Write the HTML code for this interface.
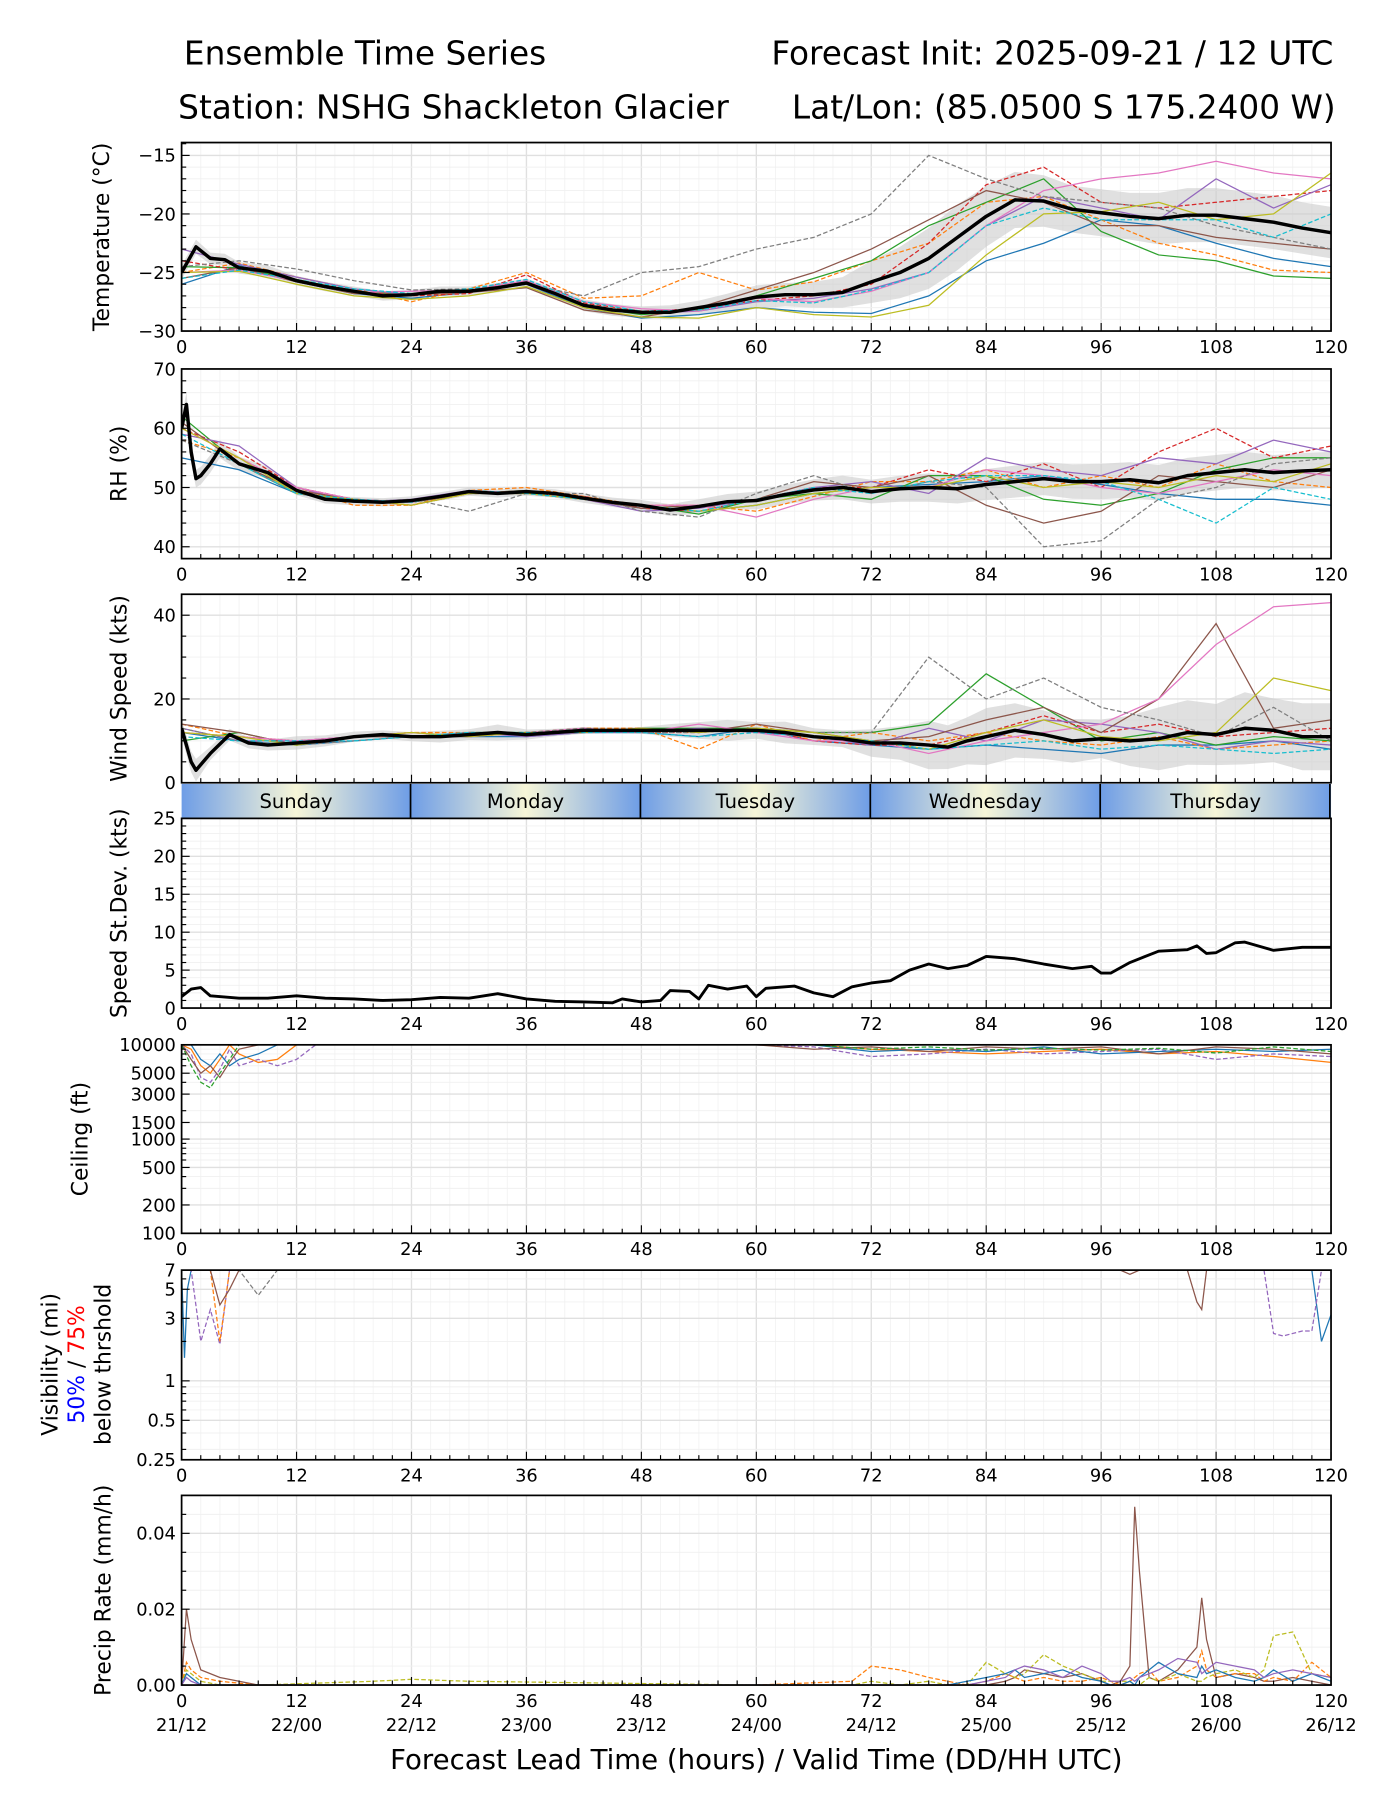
<!DOCTYPE html>
<html><head><meta charset="utf-8"><title>Ensemble Time Series</title>
<style>
html,body{margin:0;padding:0;background:#fff;}
svg{display:block;}
text{font-family:"DejaVu Sans","Liberation Sans",sans-serif;fill:#000;}
</style></head>
<body>
<svg id="chart" width="1400" height="1800" viewBox="0 0 1218 1566" preserveAspectRatio="none" xmlns="http://www.w3.org/2000/svg">
<defs>
<linearGradient id="dayg" x1="0" x2="1" y1="0" y2="0">
<stop offset="0" stop-color="#6e9de6"/><stop offset="0.5" stop-color="#f7f6d8"/><stop offset="1" stop-color="#6e9de6"/>
</linearGradient>
</defs>
<text x="160" y="56" font-size="28.5">Ensemble Time Series</text>
<text x="1160" y="56" font-size="28.5" text-anchor="end">Forecast Init: 2025-09-21 / 12 UTC</text>
<text x="155" y="103" font-size="28.5">Station: NSHG Shackleton Glacier</text>
<text x="1162" y="103" font-size="28.5" text-anchor="end">Lat/Lon: (85.0500 S 175.2400 W)</text>
<text x="658" y="1539" font-size="24" text-anchor="middle">Forecast Lead Time (hours) / Valid Time (DD/HH UTC)</text>
</svg>
<script>
// ---------- DATA ----------
const colors = ['#1f77b4','#ff7f0e','#2ca02c','#d62728','#9467bd','#8c564b','#e377c2','#7f7f7f','#bcbd22','#17becf'];
const dashed = [false,true,false,true,false,false,false,true,false,true];
const memberHours = [0,6,12,18,24,30,36,42,48,54,60,66,72,78,84,90,96,102,108,114,120];
const meanHours = [0,1.5,3,4.5,6,9,12,15,18,21,24,27,30,33,36,39,42,45,48,51,54,57,60,63,66,69,72,75,78,81,84,87,90,93,96,99,102,105,108,111,114,117,120];
const tempMean = [-25,-22.8,-23.8,-23.9,-24.6,-24.9,-25.7,-26.2,-26.6,-27,-26.9,-26.6,-26.6,-26.3,-25.9,-26.8,-27.8,-28.2,-28.4,-28.4,-28,-27.6,-27.1,-26.9,-26.9,-26.7,-25.8,-25,-23.8,-22,-20.2,-18.8,-18.9,-19.6,-19.9,-20.2,-20.4,-20.1,-20.1,-20.4,-20.7,-21.2,-21.6];
const tempSd = [0.6,0.6,0.5,0.5,0.5,0.5,0.4,0.4,0.4,0.4,0.4,0.4,0.4,0.4,0.4,0.4,0.5,0.5,0.5,0.6,0.6,0.8,1.0,1.0,1.1,1.3,1.8,2.2,2.6,2.8,2.6,2.4,2.2,2.0,2.0,2.0,2.2,2.3,2.3,2.3,2.3,2.2,2.2];
const tempMembers = [
[-26,-24.4,-25.8,-26.8,-27.2,-26.7,-26,-28,-28.9,-28.6,-28,-28.4,-28.5,-27,-24,-22.5,-20.5,-21,-22.5,-23.8,-24.5],
[-25,-24.2,-25.4,-26.4,-27.5,-26.4,-25,-27.2,-27,-25,-26.5,-25.8,-24,-22.5,-19,-18.5,-20.5,-22.5,-23.5,-24.8,-25],
[-24.5,-24.6,-25.6,-26.6,-26.9,-26.5,-25.8,-27.9,-28.6,-28.2,-27,-25.5,-24,-21,-19,-17,-21.5,-23.5,-24,-25.3,-25.5],
[-24,-24.8,-25.6,-26.6,-27,-26.8,-25.2,-27.6,-28.3,-28.1,-27.4,-27,-26,-22.5,-17.5,-16,-19,-19.5,-19,-18.5,-18],
[-23,-24.3,-25.4,-26.4,-26.9,-26.6,-26,-27.8,-28.5,-28.3,-27.5,-27.2,-26.4,-25,-21,-18.5,-19.5,-20.5,-17,-19.5,-17.5],
[-25.5,-24.6,-25.8,-26.8,-26.9,-26.7,-26.3,-28.2,-28.8,-28,-26.5,-25,-23,-20.5,-18,-19,-21,-21,-22,-22.5,-23],
[-25,-24.8,-25.7,-26.7,-26.6,-26.5,-25.7,-27.5,-28.1,-28.3,-27.2,-27.5,-26.6,-25,-21,-18,-17,-16.5,-15.5,-16.5,-17],
[-24.5,-24,-24.7,-25.7,-26.5,-26.4,-26,-27,-25,-24.5,-23,-22,-20,-15,-17,-18.5,-19,-19.5,-21,-22,-23],
[-25,-24.9,-26,-27,-27.3,-27,-26.2,-28,-28.8,-28.9,-28,-28.6,-28.8,-27.8,-23.5,-20,-19.8,-19,-20.5,-20,-16.5],
[-25.5,-24.8,-25.6,-26.4,-26.8,-26.4,-25.6,-27.5,-28.3,-28.2,-27.4,-27.6,-26.5,-25,-21,-19.5,-20.5,-20.5,-20.5,-22,-20]
];
const rhHours = [0,0.5,1,1.5,2,3,4,6,9,12,15,18,21,24,27,30,33,36,39,42,45,48,51,54,57,60,63,66,69,72,75,78,81,84,87,90,93,96,99,102,105,108,111,114,117,120];
const rhMean = [60,64,56,51.5,52,54,56.5,54,52.5,49.5,48,47.7,47.5,47.8,48.5,49.3,49,49.3,49,48.2,47.5,47,46.2,46.8,47.6,47.8,48.8,49.6,50,49.3,49.8,50,49.8,50.5,51,51.5,51,51,51.3,50.8,52,52.5,53,52.5,52.8,53];
const rhSd = [2,2,2,1.5,1.5,1.5,1.5,1.2,1,0.8,0.7,0.7,0.7,0.7,0.7,0.7,0.7,0.7,0.7,0.8,0.8,0.9,1,1.2,1.3,1.5,1.6,1.8,2,2,2.2,2.4,2.5,2.6,2.7,2.8,2.9,3,3,3,3,3,3,3,3,3];
const rhMembers = [
[55,53,49,47.5,47.5,49,49,48,46.5,46,47,49,50,50.5,51,52,50.5,49,48,48,47],
[58,55,50,47,47,49.5,50,48.5,47,47,46,48.5,51,51,53,50,52,50,54,51,50],
[62,54,49,48,47.5,49,49.5,48,47,45.5,48,49,48,52,52,48,47,49,53,55,55],
[60,56,50,48,47,49,49,48.5,46.5,46,48,50,50,53,51,54,50,56,60,55,57],
[59,57,50,47.5,48,49.5,49,48,46,46.5,48,50,51,49,55,53,52,55,54,58,56],
[61,54,49.5,48,47.5,49,49.5,48,46.5,47,48,51,50,52,47,44,46,52,51,50,53],
[60,55,50,48,47.5,49.5,49,48,47,47,45,48,50,50,53,52,50,49,51,53,52],
[58,54,49,47.5,48,46,49,49,46,45,49,52,49,51,50,40,41,48,50,54,55],
[60,55,49,48,47,49,49,48,47,46,47,49,50,50,52,50,51,50,52,51,54],
[59,54,49,48,47.5,49.5,49,48,47,46,48,50,49,51,52,52,51,48,44,50,48]
];
const windHours = [0,1,1.5,3,5,7,9,12,15,18,21,24,27,30,33,36,39,42,45,48,51,54,57,60,63,66,69,72,75,78,80,82,84,87,90,93,96,99,102,105,108,111,114,117,120];
const windMean = [13,5,3,7,11.5,9.5,9,9.5,10,11,11.5,11,11,11.5,12,11.5,12,12.5,12.5,12.5,12.5,12.5,12.5,12.5,12,11,10.5,9.5,9.5,9,8.5,10,11,12.5,11.5,10,10.5,10,10.5,12,11.5,13,12.5,11,11];
const windSd = [2,2.5,2.7,1.6,1.4,1.3,1.3,1.6,1.3,1.2,1,1.1,1.4,1.3,1.9,1.2,0.9,0.8,0.7,0.8,1.5,2,2.5,2,2.6,2,2,3.3,4,5.8,5.2,5.6,6.8,6.5,5.8,5.2,4.6,6,7.5,7.7,7.3,8.6,7.6,8,8];
const windMembers = [
[12,10,9,10,11,11,11,12,12,11,13,10,9,8,9,8,7,9,9,10,8],
[14,11,10,11,12,12,12,13,13,8,14,10,12,10,12,10,9,11,8,9,10],
[10,12,9,11,11,12,12,12,13,13,13,12,12,14,26,18,10,12,9,11,10],
[12,11,10,11,12,11,12,13,12,12,13,10,9,9,12,16,12,14,11,12,13],
[13,10,10,11,11,12,11,12,12,13,12,11,9,13,10,15,14,12,8,10,9],
[14,12,9,11,11,11,12,12,13,12,14,12,10,11,15,18,12,20,38,13,15],
[12,11,10,11,12,11,12,13,12,14,12,10,10,7,10,12,14,20,33,42,43],
[13,10,9,10,11,12,12,13,12,12,13,12,12,30,20,25,18,15,11,18,10],
[12,11,9,11,12,11,12,12,13,12,13,12,10,8,12,15,11,10,12,25,22],
[11,10,10,10,11,12,12,12,12,11,12,11,10,8,9,10,8,9,8,7,8]
];
const sdHours = [0,1,2,3,6,9,12,15,18,21,24,27,30,33,36,39,42,45,46,48,50,51,53,54,55,57,59,60,61,64,66,68,70,72,74,76,78,80,82,84,87,90,93,95,96,97,99,102,105,106,107,108,110,111,114,117,120];
const sdValues = [1.5,2.5,2.7,1.6,1.3,1.3,1.6,1.3,1.2,1,1.1,1.4,1.3,1.9,1.2,0.9,0.8,0.7,1.2,0.8,1,2.3,2.2,1.2,3,2.5,2.9,1.5,2.6,2.9,2,1.5,2.8,3.3,3.6,5,5.8,5.2,5.6,6.8,6.5,5.8,5.2,5.5,4.6,4.6,6,7.5,7.7,8.2,7.2,7.3,8.6,8.7,7.6,8,8];
const ceilHours = [0,1,2,3,4,5,6,8,10,12,14,null,60,66,72,78,84,90,96,102,108,114,120];
const ceilMembers = [
[10000,9000,6000,5000,7000,10000,8000,6500,7000,10000,10000,null,10000,10000,9000,8500,8000,8500,9000,8000,8500,7500,6500],
[10000,8000,4500,4000,5500,9000,6000,7000,6000,7000,10000,null,10000,9500,7500,8000,9000,8000,8500,9000,7000,8000,7500],
[10000,10000,7000,6000,8000,6000,7000,8000,10000,10000,10000,null,10000,10000,8500,9000,8500,9500,8000,8500,9000,8500,9000],
[10000,7000,5000,6000,4500,6500,9000,10000,10000,10000,10000,null,10000,9000,9500,8500,9500,9000,9500,8000,9500,9000,8000],
[10000,6000,4000,3500,5000,7000,10000,10000,10000,10000,10000,null,10000,10000,9000,9500,8800,9200,8800,9200,8200,9500,8500]
];
const visHours = [0,0.3,0.6,1,2,3,4,5,6,8,10,null,98,99,100,null,105,106,106.5,107,108,null,113,114,115,116,117,118,119,120];
const visMembers = [
[7,1.5,5,7,7,7,7,7,7,7,7,null,7,7,7,null,7,7,7,7,7,null,7,7,7,7,7,7,2,3.2],
[7,7,7,7,2,3.5,1.9,7,7,7,7,null,7,7,7,null,7,7,7,7,7,null,7,2.3,2.2,2.3,2.4,2.4,7,7],
[7,7,7,7,7,7,2,7,7,7,7,null,7,7,7,null,7,7,7,7,7,null,7,7,7,7,7,7,7,7],
[7,7,7,7,7,7,3.8,5,7,7,7,null,7,6.5,7,null,7,4,3.5,7,7,null,7,7,7,7,7,7,7,7],
[7,7,7,7,7,7,7,7,7,4.5,7,null,7,7,7,null,7,7,7,7,7,null,7,7,7,7,7,7,7,7]
];
const visColors = ['#1f77b4','#9467bd','#ff7f0e','#8c564b','#7f7f7f'];
const precipHours = [0,0.5,1,2,4,8,20,24,30,60,70,72,75,78,80,82,84,86,87,88,90,92,94,96,97,98,99,99.5,100,101,102,104,106,106.5,107,108,110,112,113,114,116,118,120];
const precipMembers = [
[0,0.02,0.012,0.004,0.002,0,0,0,0,0,0,0,0,0,0,0,0,0.001,0.002,0.004,0.003,0.002,0.003,0.001,0,0.001,0.005,0.047,0.03,0.002,0.001,0.004,0.01,0.023,0.012,0.002,0.003,0.002,0.001,0.001,0.002,0.001,0],
[0,0.006,0.004,0.002,0.001,0,0,0,0,0,0.001,0.005,0.004,0.002,0.001,0,0.001,0.003,0.002,0.001,0.002,0.001,0.001,0.002,0.001,0,0.001,0.002,0.003,0.004,0.001,0.002,0.005,0.009,0.004,0.002,0.003,0.003,0.001,0.002,0.001,0.006,0.002],
[0,0.004,0.003,0.001,0,0,0.001,0.0015,0.001,0,0,0.001,0,0.001,0,0,0.006,0.003,0.002,0.003,0.008,0.005,0.003,0.001,0.001,0.001,0.001,0,0,0.002,0.001,0.003,0.001,0.001,0.002,0.003,0.004,0.002,0.004,0.013,0.014,0.003,0.002],
[0,0.003,0.002,0,0,0,0,0,0,0,0,0,0,0,0,0.001,0.002,0.003,0.004,0.002,0.003,0.004,0.002,0.001,0,0,0.001,0,0.002,0.004,0.006,0.003,0.002,0.005,0.003,0.004,0.002,0.001,0.002,0.004,0.001,0.003,0.001],
[0,0.002,0.001,0,0,0,0,0,0,0,0,0,0,0,0,0,0.001,0.002,0.004,0.005,0.004,0.002,0.005,0.003,0.001,0.001,0.002,0.001,0.002,0.003,0.004,0.007,0.006,0.003,0.004,0.006,0.005,0.004,0.002,0.003,0.004,0.003,0.002]
];
const precipColors = ['#8c564b','#ff7f0e','#bcbd22','#1f77b4','#9467bd'];
const xTicks = [0,12,24,36,48,60,72,84,96,108,120];
const dateLabels = ['21/12','22/00','22/12','23/00','23/12','24/00','24/12','25/00','25/12','26/00','26/12'];
const dayNames = ['Sunday','Monday','Tuesday','Wednesday','Thursday'];
const dayStarts = [0,23.9,47.9,71.9,95.9];
const dayEnds = [23.9,47.9,71.9,95.9,120];

// ---------- DRAW ----------
const svg = document.getElementById('chart');
const NS = 'http://www.w3.org/2000/svg';
const X0 = 158, X1 = 1158;
const TICKFS = 15.5, LABELFS = 19;
function x(h){ return X0 + h*(X1-X0)/120; }
function mk(tag, attrs, parent){ const e=document.createElementNS(NS,tag); for(const k in attrs) e.setAttribute(k,attrs[k]); (parent||svg).appendChild(e); return e; }
function pathD(hs, vs, yf){
  let d='', pen=false;
  for(let i=0;i<hs.length;i++){
    if(hs[i]===null||vs[i]===null){pen=false;continue;}
    d += (pen?'L':'M')+x(hs[i]).toFixed(1)+','+yf(vs[i]).toFixed(1);
    pen=true;
  }
  return d;
}
function lin(min,max,top,bot){ return v => bot-(v-min)/(max-min)*(bot-top); }
function logs(min,max,top,bot){ return v => bot-(Math.log(v)-Math.log(min))/(Math.log(max)-Math.log(min))*(bot-top); }

function panel(name, top, bot, yf, yticks, ylabels, minorY, labelText, labelX, showX){
  const g = mk('g',{});
  
  
  const cid = 'clip-'+name;
  const cp = mk('clipPath',{id:cid},g); mk('rect',{x:X0,y:top,width:X1-X0,height:bot-top},cp);
  for(let h=0;h<=120;h+=2){ mk('line',{x1:x(h),x2:x(h),y1:top,y2:bot,stroke:h%12===0?'#e0e0e0':'#f3f3f3','stroke-width':h%12===0?1.2:0.8},g); }
  minorY.forEach(v=>{ mk('line',{x1:X0,x2:X1,y1:yf(v),y2:yf(v),stroke:'#f0f0f0','stroke-width':0.8},g); });
  yticks.forEach(v=>{ mk('line',{x1:X0,x2:X1,y1:yf(v),y2:yf(v),stroke:'#e0e0e0','stroke-width':1.2},g); });
  const data = mk('g',{'clip-path':'url(#'+cid+')'},g);
  for(let h=0;h<=120;h+=2){ const L=h%12===0?7:4; mk('line',{x1:x(h),x2:x(h),y1:bot,y2:bot-L,stroke:'#000','stroke-width':1},g); }
  minorY.forEach(v=>{ mk('line',{x1:X0,x2:X0+4,y1:yf(v),y2:yf(v),stroke:'#000','stroke-width':1},g); });
  yticks.forEach((v,i)=>{ mk('line',{x1:X0,x2:X0+7,y1:yf(v),y2:yf(v),stroke:'#000','stroke-width':1},g);
    const t=mk('text',{x:X0-5,y:yf(v)+5.5,'font-size':TICKFS,'text-anchor':'end'},g); t.textContent=ylabels[i];
    
     });
  if(showX){ xTicks.forEach(h=>{ const t=mk('text',{x:x(h),y:bot+19,'font-size':TICKFS,'text-anchor':'middle'},g); t.textContent=h;
    
     }); }
  if(labelText){ const cy=(top+bot)/2; const t=mk('text',{x:labelX,y:cy,'font-size':LABELFS,'text-anchor':'middle',transform:'rotate(-90 '+labelX+' '+cy+')'},g); t.textContent=labelText;
    
     }
  const fr=mk('rect',{x:X0,y:top,width:X1-X0,height:bot-top,fill:'none',stroke:'#000','stroke-width':1.5},g);
  
  
  return data;
}
function band(parent, hs, mean, sd, yf){
  let d='M'; hs.forEach((h,i)=>{ d+=(i?'L':'')+x(h).toFixed(1)+','+yf(mean[i]+sd[i]).toFixed(1); });
  for(let i=hs.length-1;i>=0;i--) d+='L'+x(hs[i]).toFixed(1)+','+yf(mean[i]-sd[i]).toFixed(1);
  const p=mk('path',{d:d+'Z',fill:'#cccccc','fill-opacity':0.6,stroke:'none'},parent);
  
  
}
function members(parent, hs, arr, yf, cols, dash){
  arr.forEach((vs,i)=>{
    const p=mk('path',{d:pathD(hs,vs,yf),fill:'none',stroke:cols[i%cols.length],'stroke-width':1.1},parent);
    if(dash && dash[i]) p.setAttribute('stroke-dasharray','4,2');
    
    
  });
}
function meanLine(parent, hs, vs, yf, w){
  const p=mk('path',{d:pathD(hs,vs,yf),fill:'none',stroke:'#000','stroke-width':w||3,'stroke-linejoin':'round'},parent);
  
  
}

// Temperature
let yf = lin(-30,-13.9,124,288);
let d = panel('temperature',124,288,yf,[-15,-20,-25,-30],['\u221215','\u221220','\u221225','\u221230'],[-14,-16,-17,-18,-19,-21,-22,-23,-24,-26,-27,-28,-29],'Temperature (\u00b0C)',95,true);
band(d,meanHours,tempMean,tempSd,yf); members(d,memberHours,tempMembers,yf,colors,dashed); meanLine(d,meanHours,tempMean,yf);
// RH
yf = lin(38,70,321,486);
d = panel('rh',321,486,yf,[70,60,50,40],['70','60','50','40'],[38,42,44,46,48,52,54,56,58,62,64,66,68],'RH (%)',110,true);
band(d,rhHours,rhMean,rhSd,yf); members(d,memberHours,rhMembers,yf,colors,dashed); meanLine(d,rhHours,rhMean,yf);
// Wind
yf = lin(0,45,517,681);
d = panel('wind-speed',517,681,yf,[40,20,0],['40','20','0'],[5,10,15,25,30,35,45],'Wind Speed (kts)',110,false);
band(d,windHours,windMean,windSd,yf); members(d,memberHours,windMembers,yf,colors,dashed); meanLine(d,windHours,windMean,yf);
// Day band
dayNames.forEach((n,i)=>{
  const r=mk('rect',{x:x(dayStarts[i]),y:682,width:x(dayEnds[i])-x(dayStarts[i]),height:30,fill:'url(#dayg)'});
  
  
  const t=mk('text',{x:(x(dayStarts[i])+x(dayEnds[i]))/2,y:703,'font-size':17,'text-anchor':'middle'}); t.textContent=n;
  
  
  if(i>0) mk('line',{x1:x(dayStarts[i]),x2:x(dayStarts[i]),y1:682,y2:712,stroke:'#000','stroke-width':1.5});
});
mk('line',{x1:x(120)-1,x2:x(120)-1,y1:682,y2:712,stroke:'#000','stroke-width':1.5});
// Speed stdev
yf = lin(0,25,712,877);
d = panel('speed-stdev',712,877,yf,[25,20,15,10,5,0],['25','20','15','10','5','0'],[1,2,3,4,6,7,8,9,11,12,13,14,16,17,18,19,21,22,23,24],'Speed St.Dev. (kts)',110,true);
meanLine(d,sdHours,sdValues,yf,2.5);
// Ceiling
yf = logs(100,10000,909,1073);
d = panel('ceiling',909,1073,yf,[10000,5000,3000,1500,1000,500,200,100],['10000','5000','3000','1500','1000','500','200','100'],[300,400,600,700,800,900,2000,4000,6000,7000,8000,9000],'Ceiling (ft)',76,true);
members(d,ceilHours,ceilMembers,yf,['#ff7f0e','#9467bd','#1f77b4','#8c564b','#2ca02c'],[false,true,false,false,true]);
// Visibility
yf = logs(0.25,7,1105,1270);
d = panel('visibility',1105,1270,yf,[7,5,3,1,0.5,0.25],['7','5','3','1','0.5','0.25'],[0.3,0.4,0.6,0.7,0.8,0.9,2,4,6],null,0,true);
members(d,visHours,visMembers,yf,visColors,[false,true,true,false,true]);
(function(){
  const cy=1187;
  const t1=mk('text',{x:50,y:cy,'font-size':LABELFS,'text-anchor':'middle',transform:'rotate(-90 50 '+cy+')'}); t1.textContent='Visibility (mi)';
  
  
  const t2=mk('text',{x:73,y:cy,'font-size':LABELFS,'text-anchor':'middle',transform:'rotate(-90 73 '+cy+')'});
  
  
  const s1=mk('tspan',{fill:'#0000ff'},t2); s1.textContent='50%';
  const s2=mk('tspan',{},t2); s2.textContent=' / ';
  const s3=mk('tspan',{fill:'#ff0000'},t2); s3.textContent='75%';
  const t3=mk('text',{x:96,y:cy,'font-size':LABELFS,'text-anchor':'middle',transform:'rotate(-90 96 '+cy+')'}); t3.textContent='below thrshold';
  
  
})();
// Precip
yf = lin(0,0.05,1301,1466);
d = panel('precip',1301,1466,yf,[0.04,0.02,0],['0.04','0.02','0.00'],[0.005,0.01,0.015,0.025,0.03,0.035,0.045],'Precip Rate (mm/h)',96,true);
members(d,precipHours,precipMembers,yf,precipColors,[false,true,true,false,false]);
dateLabels.forEach((s,i)=>{ const t=mk('text',{x:x(xTicks[i]),y:1506,'font-size':TICKFS,'text-anchor':'middle'}); t.textContent=s;
  
   });
</script>
</body></html>
